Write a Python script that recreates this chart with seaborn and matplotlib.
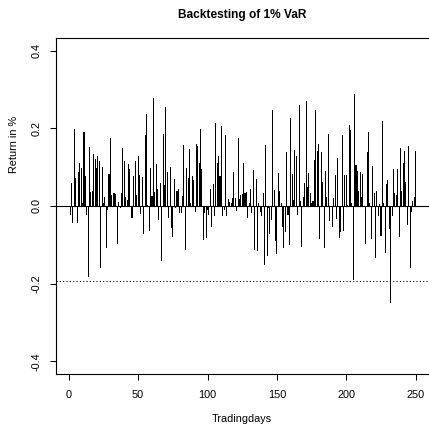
import numpy as np
import pandas as pd
import matplotlib
matplotlib.use("Agg")
import matplotlib.pyplot as plt
import seaborn as sns

# Daily returns (in %) over one year of trading days
days = list(range(1, 251))
returns = [
    -0.023, 0.058, -0.045, 0.198, 0.071, -0.043, 0.087, 0.112, 0.097, 0.009,
    0.190, 0.078, -0.023, -0.182, 0.151, 0.035, 0.039, 0.133, 0.121, 0.099,
    0.130, 0.116, -0.159, 0.101, 0.009, 0.024, -0.107, -0.010, 0.082, 0.176,
    0.028, 0.034, 0.034, 0.030, -0.099, 0.010, -0.005, 0.034, 0.150, 0.116,
    0.024, 0.015, 0.109, 0.095, -0.030, -0.032, 0.076, 0.116, 0.028, 0.129,
    0.080, -0.021, 0.074, -0.073, 0.183, 0.237, 0.003, -0.064, 0.097, 0.026,
    0.279, 0.037, 0.108, 0.043, -0.036, 0.058, -0.142, 0.185, 0.054, 0.256,
    0.087, -0.032, 0.100, -0.056, -0.080, 0.069, -0.006, 0.039, 0.045, -0.019,
    -0.019, 0.026, 0.157, -0.113, 0.099, 0.073, 0.146, 0.009, 0.077, 0.066,
    -0.016, 0.159, 0.155, 0.110, 0.198, 0.095, -0.088, -0.019, -0.083, -0.010,
    -0.023, 0.044, -0.053, 0.056, -0.027, 0.215, 0.112, 0.130, 0.078, 0.207,
    -0.025, -0.010, 0.183, -0.026, 0.018, 0.011, 0.009, 0.020, 0.088, 0.021,
    -0.013, 0.174, 0.018, 0.028, 0.032, 0.110, 0.033, 0.035, -0.030, 0.009,
    0.045, -0.019, 0.093, -0.113, 0.070, -0.115, 0.009, -0.015, -0.026, 0.033,
    -0.152, 0.157, -0.128, -0.006, -0.073, -0.036, 0.247, 0.041, -0.090, -0.124,
    0.084, 0.039, 0.009, -0.053, -0.109, -0.066, 0.140, -0.023, -0.100, 0.226,
    0.082, 0.015, 0.144, 0.129, -0.023, 0.260, 0.013, -0.105, 0.024, 0.060,
    0.270, 0.050, 0.084, 0.033, 0.007, 0.013, 0.118, 0.247, 0.142, 0.159,
    -0.085, 0.138, 0.061, -0.109, 0.090, 0.024, 0.185, -0.039, -0.002, -0.053,
    0.021, 0.080, -0.034, 0.123, -0.082, -0.066, 0.183, -0.064, 0.080, 0.080,
    0.003, 0.209, 0.197, 0.007, -0.190, 0.288, 0.106, 0.090, 0.039, 0.087,
    0.024, 0.082, -0.002, -0.099, 0.139, 0.190, 0.009, -0.086, 0.104, 0.034,
    -0.135, 0.039, -0.025, 0.005, -0.076, 0.219, 0.007, -0.122, 0.057, 0.066,
    -0.060, -0.251, -0.025, 0.095, 0.033, 0.029, 0.095, -0.080, 0.149, 0.039,
    0.110, 0.142, 0.061, -0.049, 0.155, -0.161, -0.015, 0.013, 0.022, 0.142,
]
var_level = -0.1924

x_ticks = [0, 50, 100, 150, 200, 250]
y_ticks = [-0.4, -0.2, 0.0, 0.2, 0.4]
y_tick_labels = ["-0.4", "-0.2", "0.0", "0.2", "0.4"]

title = "Backtesting of 1% VaR"
x_label = "Tradingdays"
y_label = "Return in %"

sns.set_style("ticks")
plt.rcParams["font.family"] = ["Liberation Sans", "DejaVu Sans"]
plt.rcParams["axes.unicode_minus"] = False
plt.rcParams["text.color"] = "black"
plt.rcParams["axes.labelcolor"] = "black"

df = pd.DataFrame({"day": days, "ret": returns})

W, H = 429, 424
fig = plt.figure(figsize=(W / 100, H / 100), dpi=100)

# plot region in pixels: left, right, top, bottom
px_l, px_r, px_t, px_b = 56.3, 429.5, 38.3, 373.7
ax = fig.add_axes([px_l / W, 1 - px_b / H, (px_r - px_l) / W, (px_b - px_t) / H])

# vertical spikes (type "h")
sns.barplot(data=df, x="day", y="ret", native_scale=True, width=0.75,
            color="black", saturation=1, linewidth=0, errorbar=None, ax=ax)

ax.axhline(0, color="black", lw=0.8, zorder=3)
ax.axhline(var_level, color="black", lw=0.8, linestyle=(0, (1, 2)), zorder=3)

ax.set_xlim(-8.96, 259.96)
ax.set_ylim(-0.432, 0.432)

ax.set_xticks(x_ticks)
ax.set_xticklabels([str(t) for t in x_ticks])
ax.set_yticks(y_ticks)
ax.set_yticklabels(y_tick_labels, rotation=90, va="center")

ax.tick_params(axis="both", direction="out", length=4.3, width=0.75,
               labelsize=7.8, colors="black")
ax.tick_params(axis="x", pad=7.5)
ax.tick_params(axis="y", pad=6.5)

for side in ["left", "bottom", "top", "right"]:
    ax.spines[side].set_color("black")
    ax.spines[side].set_linewidth(0.8)

ax.set_xlabel("")
ax.set_ylabel("")
ax.grid(False)

fig.text(242 / W, 1 - 15 / H, title, ha="center", va="center",
         fontsize=8.6, fontweight="bold", color="black")
fig.text(242 / W, 1 - 419 / H, x_label, ha="center", va="center",
         fontsize=7.8, color="black")
fig.text(14 / W, 1 - 144 / H, y_label, ha="center", va="center",
         rotation=90, fontsize=7.8, color="black")

fig.savefig("out.png", dpi=100)
